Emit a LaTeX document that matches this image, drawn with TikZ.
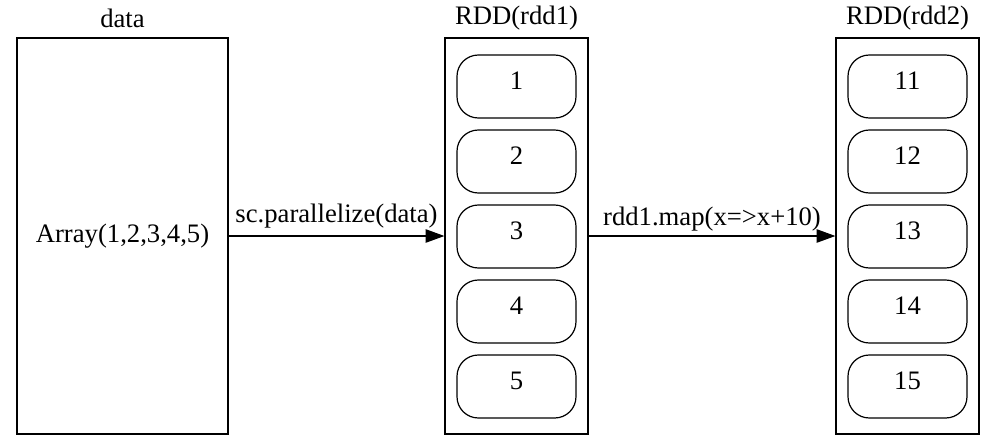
\documentclass[tikz,border=0pt]{standalone}
\usepackage{fontspec}
\setmainfont{Liberation Serif}
\usetikzlibrary{arrows.meta,positioning}
\tikzstyle{store}=[draw,line width=0.9pt,minimum width=107.25pt,minimum height=297pt,inner sep=0pt]
\tikzstyle{source}=[store,minimum width=158.25pt]
\tikzstyle{part}=[draw,line width=0.9pt,rounded corners=16pt,minimum width=89.25pt,minimum height=47.25pt,inner sep=0pt,text depth=8pt]
\tikzstyle{flow}=[line width=0.9pt,-{Triangle[length=14pt,width=10pt]}]

\begin{document}
\begin{tikzpicture}[x=0.75pt,y=-0.75pt,font=\fontsize{20}{24}\selectfont]
      \useasboundingbox (0,0) rectangle (990,436);
      \node[source] (data) at (122.5,236) {Array(1,2,3,4,5)};
      \node[store] (rdd1) at (516.5,236) {};
      \node[store] (rdd2) at (907.5,236) {};
      \node (Tdata) at (122.5,18) {data};
      \node (Trdd1) at (516.5,18) {RDD(rdd1)};
      \node (Trdd2) at (907.5,18) {RDD(rdd2)};
\foreach \k in {1,2,3,4,5}
        \node[part] (P\k) at (516.5,11.5+75*\k) {\k};
\foreach \k in {1,2,3,4,5}
        \node[part] (Q\k) at (907.5,11.5+75*\k) {1\k};
      \draw[flow] (data) -- node[above,yshift=2pt] {sc.parallelize(data)} (rdd1);
      \draw[flow] (rdd1) -- node[above] {rdd1.map(x=>x+10)} (rdd2);
    \end{tikzpicture}
\end{document}
